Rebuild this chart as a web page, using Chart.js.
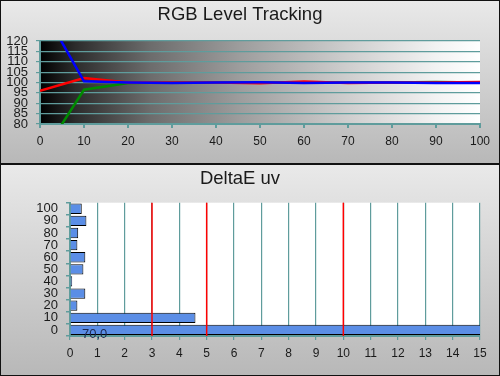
<!DOCTYPE html>
<html>
<head>
<meta charset="utf-8">
<script src="https://cdn.jsdelivr.net/npm/chart.js@4.4.0/dist/chart.umd.min.js"></script>
<style>
  html, body { margin: 0; padding: 0; background: #fff; }
  body { width: 500px; height: 376px; position: relative; overflow: hidden; }
  .painel {
    position: absolute; left: 0; width: 500px; box-sizing: border-box;
    border: 1px solid #111;
    background: linear-gradient(#e9e9e9, #b8b8b8);
  }
  #painelTopo { top: 0; height: 164px; }
  #painelBase { top: 164px; height: 212px; }
  canvas { position: absolute; left: 0; }
  #chartRgb { top: 0; }
  #chartDelta { top: 164px; }
</style>
</head>
<body>
<div class="painel" id="painelTopo"></div>
<div class="painel" id="painelBase"></div>
<canvas id="chartRgb" width="500" height="164"></canvas>
<canvas id="chartDelta" width="500" height="212"></canvas>
<script>
// Niveis de cinza (eixo x do grafico de cima)
const niveis = [0, 10, 20, 30, 40, 50, 60, 70, 80, 90, 100];
const vermelho = [96, 102.2, 100, 100, 100, 99.6, 100.5, 99.8, 100, 100, 100.2];
const verde = [63.5, 96.5, 99.8, 100, 100, 100, 100, 100, 100, 100.3, 100];
const azul = [138, 100.6, 100, 99.7, 100, 100.1, 99.8, 100, 100, 99.8, 99.8];

// DeltaE uv por nivel
const niveisDelta = ['0', '10', '20', '30', '40', '50', '60', '70', '80', '90', '100'];
const valoresDelta = [70.0, 4.59, 0.27, 0.56, 0.08, 0.49, 0.56, 0.27, 0.3, 0.6, 0.43];
const limites = [3, 5, 10];

const fonte = 'Arial, "Liberation Sans", sans-serif';
const corGrade = '#5f9c9c';
const corTexto = '#1a1a1a';

function pontos(valores) {
  return niveis.map((x, i) => ({ x: x, y: valores[i] }));
}

// Fundo preto -> branco da area do grafico de cima
const fundoGradiente = {
  id: 'fundoGradiente',
  beforeDraw(chart) {
    const a = chart.chartArea;
    const ctx = chart.ctx;
    const g = ctx.createLinearGradient(a.left, 0, a.right, 0);
    g.addColorStop(0, '#000000');
    g.addColorStop(0.08, '#2c2c2c');
    g.addColorStop(0.25, '#6c6c6c');
    g.addColorStop(0.45, '#9c9c9c');
    g.addColorStop(0.7, '#cecece');
    g.addColorStop(0.9, '#f2f2f2');
    g.addColorStop(1, '#ffffff');
    ctx.save();
    ctx.fillStyle = g;
    ctx.fillRect(a.left, a.top, a.right - a.left, a.bottom - a.top);
    ctx.restore();
  }
};

const fundoBranco = {
  id: 'fundoBranco',
  beforeDraw(chart) {
    const a = chart.chartArea;
    chart.ctx.save();
    chart.ctx.fillStyle = '#ffffff';
    chart.ctx.fillRect(a.left, a.top, a.right - a.left, a.bottom - a.top);
    chart.ctx.restore();
  }
};

// Linhas vermelhas de limite e o valor da barra cortada
const linhasLimite = {
  id: 'linhasLimite',
  afterDatasetsDraw(chart) {
    const ctx = chart.ctx;
    const a = chart.chartArea;
    const escalaX = chart.scales.x;
    ctx.save();
    ctx.strokeStyle = '#ff0000';
    ctx.lineWidth = 1.5;
    limites.forEach(v => {
      const px = escalaX.getPixelForValue(v);
      ctx.beginPath();
      ctx.moveTo(px, a.top);
      ctx.lineTo(px, a.bottom);
      ctx.stroke();
    });
    const meta = chart.getDatasetMeta(0);
    ctx.fillStyle = '#1c2850';
    ctx.font = '13px ' + fonte;
    ctx.textAlign = 'left';
    ctx.textBaseline = 'middle';
    valoresDelta.forEach((v, i) => {
      if (v > escalaX.max) {
        const barra = meta.data[i];
        ctx.fillText(v.toFixed(1).replace('.', ','), escalaX.getPixelForValue(0) + 12, barra.y + 4);
      }
    });
    ctx.restore();
  }
};

new Chart(document.getElementById('chartRgb').getContext('2d'), {
  type: 'line',
  data: {
    datasets: [
      { label: 'Vermelho', data: pontos(vermelho), borderColor: '#ff0000', borderWidth: 2.5, pointRadius: 0, order: 1 },
      { label: 'Verde', data: pontos(verde), borderColor: '#008a00', borderWidth: 2.5, pointRadius: 0, order: 2 },
      { label: 'Azul', data: pontos(azul), borderColor: '#0000ff', borderWidth: 2.5, pointRadius: 0, order: 0 }
    ]
  },
  options: {
    responsive: false,
    animation: false,
    layout: { padding: { left: 0, right: 20, top: 0, bottom: 0 } },
    plugins: {
      legend: { display: false },
      tooltip: { enabled: false },
      title: {
        display: true,
        text: 'RGB Level Tracking',
        color: corTexto,
        font: { family: fonte, size: 18.5, weight: 'normal' },
        padding: { top: 4, bottom: 14.8 }
      }
    },
    scales: {
      x: {
        type: 'linear',
        min: 0, max: 100,
        afterFit: (s) => { s.height = 40; },
        ticks: { stepSize: 10, color: corTexto, font: { family: fonte, size: 12 }, padding: 6, maxRotation: 0, autoSkip: false },
        grid: { drawOnChartArea: false, color: corGrade, tickLength: 4, lineWidth: 2 },
        border: { color: corGrade, width: 2 }
      },
      y: {
        min: 80, max: 120,
        afterFit: (s) => { s.width = 40; },
        ticks: { stepSize: 5, color: corTexto, font: { family: fonte, size: 13 }, padding: 8, autoSkip: false },
        grid: { color: corGrade, tickLength: 4, lineWidth: 1.2 },
        border: { color: corGrade, width: 2 }
      }
    }
  },
  plugins: [fundoGradiente]
});

new Chart(document.getElementById('chartDelta').getContext('2d'), {
  type: 'bar',
  data: {
    labels: niveisDelta,
    datasets: [{
      label: 'DeltaE uv',
      data: valoresDelta,
      backgroundColor: '#5b8ee6',
      borderColor: '#000000',
      borderWidth: 1,
      barPercentage: 0.85,
      categoryPercentage: 1
    }]
  },
  options: {
    indexAxis: 'y',
    responsive: false,
    animation: false,
    layout: { padding: { left: 0, right: 20, top: 0, bottom: 0 } },
    plugins: {
      legend: { display: false },
      tooltip: { enabled: false },
      title: {
        display: true,
        text: 'DeltaE uv',
        color: corTexto,
        font: { family: fonte, size: 18.5, weight: 'normal' },
        padding: { top: 4, bottom: 12.5 }
      }
    },
    scales: {
      x: {
        min: 0, max: 15,
        afterFit: (s) => { s.height = 40; },
        ticks: { stepSize: 1, color: corTexto, font: { family: fonte, size: 12 }, padding: 6, maxRotation: 0, autoSkip: false },
        grid: { color: corGrade, tickColor: corGrade, tickLength: 4, lineWidth: 1.2 },
        border: { color: corGrade, width: 2 }
      },
      y: {
        reverse: true,
        afterFit: (s) => { s.width = 70; },
        ticks: { color: corTexto, font: { family: fonte, size: 13 }, padding: 8, autoSkip: false },
        grid: { drawOnChartArea: false, color: corGrade, tickLength: 4, lineWidth: 1.5 },
        border: { color: corGrade, width: 2 }
      }
    }
  },
  plugins: [fundoBranco, linhasLimite]
});
</script>
</body>
</html>
